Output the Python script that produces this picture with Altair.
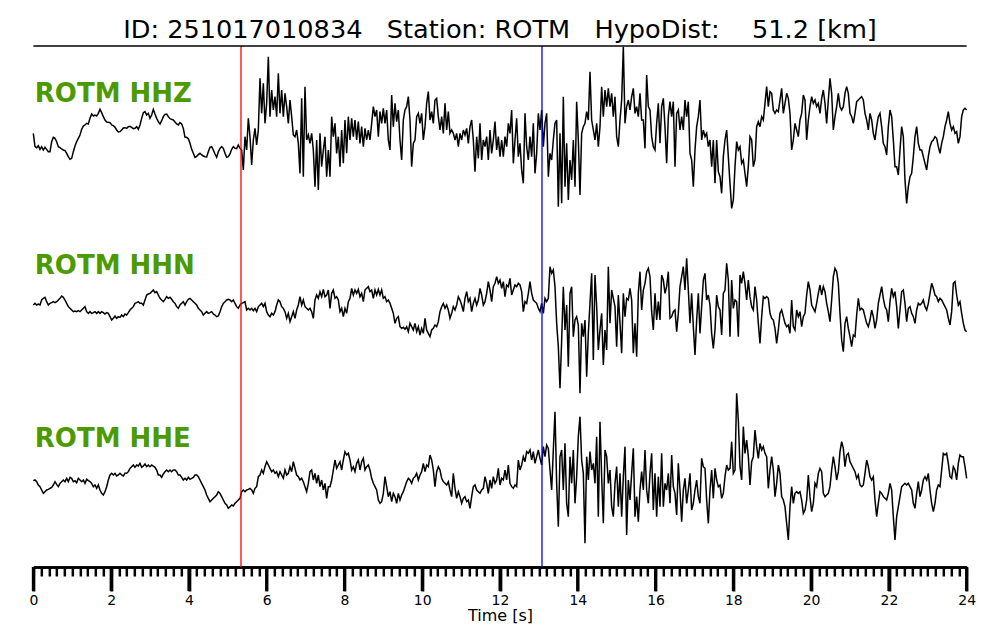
import altair as alt
import pandas as pd

TITLE = "ID: 251017010834   Station: ROTM   HypoDist:    51.2 [km]"
STATION = "ROTM"
CHANNELS = ["HHZ", "HHN", "HHE"]
SAMPLE_INTERVAL = 24 / 560  # seconds per sample
TRACE_OFFSETS = [1281, 801, 261]
P_PICK = 5.34
S_PICK = 13.08

HHZ = [
    20, -20, -23, -17, -28, -20, -30, -22, -28, -35,
    -35, -5, 8, 5, -5, -20, -23, -27, -30, -32,
    -40, -50, -58, -55, -35, -18, -5, 5, 15, 32,
    42, 45, 50, 48, 65, 78, 72, 75, 72, 80,
    92, 82, 70, 60, 54, 53, 52, 45, 43, 38,
    30, 24, 25, 30, 36, 37, 35, 40, 41, 38,
    34, 35, 40, 32, 45, 65, 82, 85, 75, 80,
    65, 75, 92, 78, 65, 55, 48, 58, 70, 77,
    78, 70, 64, 62, 60, 54, 48, 45, 52, 48,
    35, 8, 8, 4, -10, -28, -40, -52, -49, -44,
    -40, -45, -48, -50, -51, -35, -22, -20, -30, -42,
    -52, -35, -25, -20, -25, -40, -52, -50, -42, -28,
    -20, -25, -26, -15, -25, -30, -90, 10, -30, 65,
    10, -75, 0, 35, -15, 30, 185, 80, 170, 50,
    110, 250, 70, 150, 90, 130, 70, 200, 80, 150,
    70, 140, 100, 50, 120, 70, 15, 10, 30, -10,
    -100, 125, -110, 160, 0, 15, -10, 20, -30, -140,
    0, -150, 20, -80, -30, 10, -110, -30,
    -110, 70, 10, 50, -40, 10, -80, 30, -70, 60,
    -40, 70, 0, 65, 10, 60, 0, 55, -10, 40,
    -20, 35, 0, 30, 0, 50, 100, 70, 90, 10,
    85, 50, 95, 50, 90, 0, -30, 135, 40, 110,
    55, 90, 0, -60, 60, 90, 100, 130, 60, -80,
    -10, 0, 70, 80, 50, 80, 0, 40, 110, 145,
    60, 85, 50, 120, 125, 70, 30, 70, 20, 110,
    30, 85, 20, 30, 20, 0, 20, -20, 20, 0,
    30, 15, 35, -10, 40, 60, 0, -95, 10, -55,
    50, -60, 0, -20, 10, -60, 30, -40, 0, 55,
    -30, 10, -50, 0, -50, 10, -20, 50, 20, 90,
    -70, 0, 65, -50, -10, -90, -130, 80, -20, -60,
    10, -50, 50, -100, -40, 80, 30, 90, -20, 50,
    80, -110, -40, -60, 0, 50, 60, -200, 20, -190,
    130, -140, -10, -180, -60, -120, 0, -140, 115, 0,
    -165, 20, 40, 50, 85, 60, 205, 60, 30, 0,
    50, -20, 40, 160, 70, 150, 100, 155, 100, 140,
    70, 130, 10, -20, 60, 120, 280, 50, 100, 120,
    90, 130, 155, 80, 100, 70,
    140, 60, 60, -25, 195, 100, 90, 10, -20, -30,
    50, 110, -10, 100, 125, 40, -70, 70, 115, 70,
    115, -80, 80, 90, 30, 70, 30, 120, 70, 115,
    -40, -60, -140, -30, 40, 70, 120, 0, 30, 10,
    20, -20, 0, -80, 0, -130, 0, -95, -110, -160,
    -50, 0, 30, -50, -130, -205, -180, -80, -5, -30,
    -20, -70, -60, -100, -140, -80, 10, 0, -80, -60,
    40, 55, 40, 70, 60, 110, 160, 100, 145, 140,
    90, 80, 90, 85, 120, 155, 80, 110, 140, 125,
    80, -30, 0, 50, 30, 10, 60, 80, 135, 120,
    0, 60, 100, 130, 110, 120, 100, 110, 80, 125,
    150, 110, 50, 120, 185, 140, 30, 70, 100, 140,
    100, 90, 100, 140, 160, 140, 80, 70, 50, 80,
    115, 120, 125, 130, 120, 80, 60, 30, 80, 60,
    20, 0, 40, 70, 80, 40, -10, -20, -45, 40,
    90, 70, 0, -80, -80, -105, -30, 40, 10, -120,
    -190, -140, -110, -100, -50, 10, 40, -10, -30, -30,
    -50, -70, -90, -50, -20, -5, 0, 10, 5, -20,
    -40, -10, 10, 40, 60, 85, 50, 30, 40, 20,
    25, -10, 10, 70, 90, 95, 90,
]

HHN = [
    -15, -10, -15, -12, -15, 0, 5, 8, -5, -15,
    -10, -8, -5, -8, -5, 0, 5, 12, 8, 0,
    -10, -20, -25, -30, -35, -33, -35, -32, -35, -30,
    -25, -20, -35, -40, -35, -40, -38, -35, -40, -35,
    -40, -35, -38, -42, -38, -40, -50, -60, -55, -48,
    -55, -50, -52, -45, -50, -42, -45, -38, -30, -25,
    -20, -10, -8, -5, -10, -10, -15, 0, 15, 18,
    20, 25, 30, 22, 25, 15, 5, 0, -5, 2,
    10, 5, 8, 2, -5, -10, -20, -25, -15, -10,
    -5, -15, -5, 2, 5, 0, -5, -10, -15, -25,
    -30, -35, -45, -40, -35, -40, -38, -35, -42, -45,
    -50, -48, -35, -20, -10, -5, 0, 2, 0, -5,
    0, -10, -20, -25, -15, -10, -8, -5, -30, -25,
    -30, -25, -32, -25, -35, -20, -15, -10, -20, -10,
    -35, -45, -50, -40, -45, -35, -15, 0, -5, -20,
    -25, -35, -55, -40, -65, -50, -35, -55, -30, -15,
    10, -15, 0, -20, -25, -30, -25, -35, -55, 0,
    15, 5, 25, 10, 32, 10, 15, 30,
    -25, 20, 30, 5, 10, 0, -35, -25, -50, -25,
    -40, -5, 5, 35, 15, 30, 20, 32, 10, 20,
    -5, 30, 35, 40, 25, 30, 5, 30, 15, 32,
    15, 30, 5, 10, -5, 0, -10, -25, -40, -70,
    -55, -50, -80, -85, -82, -88, -80, -95, -70, -80,
    -90, -70, -95, -80, -105, -85, -100, -55, -90, -100,
    -110, -90, -85, -75, -80, -65, -35, -20, -10, -25,
    -15, -30, -55, -40, -20, -30, -15, 10, 0, -15,
    -35, 5, 25, -5, 5, -35, -10, 5, -15, 0,
    35, 15, -15, -5, 20, 55, 30, -5, 40, 50,
    70, 50, 60, 35, 55, 10, 45, 40, 65, 15,
    30, 45, 40, 50, 45, 25, -35, -5, -10, 20,
    55, 20, 0, -5, -10, -25, -35, -10, -40, 5,
    -5, 5, 100, 80, 90, 40, -70, -140, -265, -120,
    40, -90, -15, -200, 20, 40, -110, -60, -50, -75,
    -280, -70, -110, -60, -230, -100, -10, 80, -180, 75,
    -20, -150, -90, -40, -195, -90, -150, 100, -70, 30,
    5, -20, -140, 15, -70, -160, 20, -50, 5, 0,
    35, 0, -160, -70, -170, 20,
    85, -30, 30, 50, 85, 95, 70, -35, -90, 20,
    -60, -5, -60, 75, 60, 20, 40, 85, -55, -50,
    -35, -30, -95, -40, 40, 70, 100, 30, 125, 30,
    -70, 20, -80, -165, -60, 20, -100, -20, 60, 80,
    0, 15, -15, -100, -145, -90, 15, -20, -30, -105,
    20, 30, 110, 60, -110, 60, -25, 0, -5, -110,
    75, 50, 85, 50, 0, 60, 10, -20, -30, 40,
    0, -70, -130, -50, 10, 5, 10, 5, -40, -55,
    -60, -85, -130, -90, -40, -30, -50, -70, -80, -75,
    -100, 0, -80, -90, -30, -50, -35, -80, -50, -40,
    15, 55, 30, -15, -25, -35, -10, 20, 45, 15,
    40, 25, -10, -35, -65, 0, 70, 95, 85, 50,
    -40, -120, -155, -70, -50, -85, -110, -140, -105, -110,
    -45, 5, -30, -25, -30, -50, -70, -80, -60, -30,
    -50, -85, -60, -10, 15, 40, 5, -20, -30, -65,
    -5, 35, 10, 25, -20, -85, -30, 25, 30, -10,
    -65, -25, -20, -40, -50, -70, -30, -10, -15, -10,
    0, -20, -30, -10, 20, 50, 35, 15, 10, -5,
    5, 0, -10, -20, -30, -55, -75, -35, 50, 55,
    15, -15, -5, -40, -70, -90, -95,
]

HHE = [
    -2, 0, -5, -15, -20, -30, -40, -35, -30, -28,
    -25, -22, -15, -5, -13, -20, -10, -5, 0, -5,
    5, -5, 8, 5, -5, -2, -8, 5, 0, -5,
    0, -10, 2, -2, -5, -10, -20, -15, -25, -15,
    -30, -40, -45, -35, -20, 0, 15, 20, 15, 20,
    12, 15, 20, 15, 12, 20, 20, 25, 35, 40,
    45, 38, 45, 42, 50, 38, 42, 48, 40, 45,
    40, 45, 42, 38, 30, 15, 15, 8, 18, 25,
    30, 25, 30, 25, 30, 30, 25, 15, 15, 8,
    0, 5, 0, 8, 2, 5, 8, 15, 15, 10,
    0, -10, -20, -30, -45, -55, -65, -60, -55, -50,
    -45, -35, -40, -50, -60, -70, -75, -85, -80, -75,
    -78, -70, -65, -60, -55, -35, -30, -35, -30, -28,
    -25, -30, -40, -25, -20, 10, 15, 30, 20, 40,
    55, 45, 35, 25, 30, 20, 25, 10, 25, 15,
    5, 30, 15, 20, 40, 25, 55, 35, 15, 10,
    0, 5, -5, -20, -35, -10, 25, 30, 0, 20,
    -10, 15, -20, 0, -30, -10, -55, -20,
    -20, 0, 30, 60, 35, 45, 55, 30, 60, 85,
    75, 80, 60, 30, 40, 25, 50, 60, 30, 55,
    65, 30, 40, 45, 30, 5, -10, -20, -30, -60,
    -70, -65, -40, 10, -20, -50, -35, -65, -40, -50,
    -70, -40, -60, -45, -35, -20, -5, 5, 0, -10,
    5, 10, 20, 0, 15, 25, 50, 25, 45, 40,
    75, 60, 30, -20, 25, 40, 30, 5, -5, -10,
    -15, -5, -30, -50, 20, -25, -55, -35, -50, -70,
    -55, -50, -65, -60, -85, -50, -20, -15, -30, -35,
    -40, -30, -25, 10, -10, -40, 0, -25, 10, -10,
    0, 35, -15, 5, 0, 30, 0, 45, -10, -20,
    -25, -15, -20, 60, 30, 45, 70, 55, 85, 80,
    90, 60, 85, 50, 70, 90, 65, 45, 100, 70,
    105, 95, 30, -30, 90, 205, -10, -140, 70, 90,
    -30, 110, -70, -110, 70, -10, 90, -70, 10, 130,
    190, 60, 20, -190, 70, 0, 85, 30, 50, -10,
    130, -110, 175, 10, -130, 90, 70, -10, 30, -80,
    -110, -10, 40, -80, 20, -110, 10, 100, -165, 0,
    -60, 20, 95, -110, -50, -125,
    -30, 25, -30, 90, -30, -70, 20, 80, -90, 20,
    -110, 10, -80, 80, -80, -10, -30, 20, -70, 75,
    -20, -40, -105, 50, -30, -125, -30, 5, -70, -30,
    20, -90, -70, -30, 0, -50, -70, 65, 40, 35,
    -60, -130, -30, 30, -55, 35, 0, -20, -15, -55,
    -40, 10, 45, 30, 35, 115, 20, 30, 260, 180,
    40, 0, 160, 80, 120, 70, -15, 55, 70, 150,
    100, 65, 110, 90, 100, 80, 70, -25, 30, 70,
    30, -50, -10, 45, 20, -50, -60, -80, -130, -180,
    -80, -20, -70, -40, -35, -40, -35, -60, -100, -90,
    -60, 15, -50, -95, -70, -10, -20, 20, 35, 25,
    -40, -50, -45, -40, -20, 30, 70, 40, 0, 25,
    85, 115, 95, 40, 75, 80, 55, 45, 35, 25,
    5, 15, -15, -20, -15, 20, 60, 40, 10, 0,
    10, -60, -110, -70, -35, -40, -50, -55, -60, -40,
    -10, -30, -110, -180, -110, -80, -50, -20, -15, -10,
    -15, -10, -20, -30, -70, -85, -40, -5, -50, -30,
    0, 10, 0, 20, -30, -70, -95, -70, -30, -15,
    -20, 30, 80, 75, 80, 50, 10, 5, 40, 30,
    0, 50, 75, 70, 70, 40, 5,
]

rows = []
for ch, off, amps in zip(CHANNELS, TRACE_OFFSETS, [HHZ, HHN, HHE]):
    for i, a in enumerate(amps):
        rows.append({"channel": ch, "time": i * SAMPLE_INTERVAL, "value": off + a})
df = pd.DataFrame(rows)

picks = pd.DataFrame({"time": [P_PICK, S_PICK], "phase": ["P", "S"]})
MINOR_TICKS = [round(i * 0.2, 1) for i in range(121)]
MAJOR_TICKS = list(range(0, 25, 2))
major_df = pd.DataFrame({"tick": MAJOR_TICKS})

W = 933.33
H = 521
FONT = "DejaVu Sans"

xscale = alt.Scale(domain=[0, 24], nice=False, zero=False)
yscale = alt.Scale(domain=[0, 1563], nice=False, zero=False)

minor_axis = alt.Axis(
    orient="bottom",
    values=MINOR_TICKS,
    tickCount=500,
    title=None,
    labels=False,
    grid=False,
    domainColor="black",
    domainWidth=2.5,
    tickColor="black",
    tickSize=9,
    tickWidth=2.5,
)

major_axis = alt.Axis(
    orient="bottom",
    values=MAJOR_TICKS,
    tickCount=500,
    title="Time [s]",
    grid=False,
    domainColor="black",
    domainWidth=2.5,
    tickColor="black",
    tickSize=24,
    tickWidth=3,
    format="d",
    labelOverlap=False,
    labelFlush=False,
    labelFont=FONT,
    labelFontSize=14,
    labelColor="black",
    labelPadding=3,
    titleFont=FONT,
    titleFontSize=16,
    titleFontWeight="normal",
    titleColor="black",
    titlePadding=0,
)

lines = alt.Chart(df).mark_line(color="black", strokeWidth=1.5).encode(
    x=alt.X("time:Q", scale=xscale, axis=minor_axis),
    y=alt.Y("value:Q", scale=yscale, axis=None),
    detail="channel:N",
)

pick_rules = alt.Chart(picks).mark_rule(strokeWidth=1.3).encode(
    x=alt.X("time:Q", scale=xscale, axis=major_axis),
    color=alt.Color("phase:N", scale=alt.Scale(domain=["P", "S"], range=["#ff0000", "#0000ff"]), legend=None),
)

major_ticks = alt.Chart(major_df).mark_rule(color="black", strokeWidth=3).encode(
    x=alt.X("tick:Q", scale=xscale, axis=None),
    y=alt.value(H),
    y2=alt.value(H + 24),
)

one = pd.DataFrame({"k": [0]})
top_line = alt.Chart(one).mark_rule(color="black", strokeWidth=1.5).encode(
    x=alt.value(0), x2=alt.value(W), y=alt.value(0)
)

title_text = alt.Chart(one).mark_text(
    text=TITLE.replace(" ", "\u00a0"), font=FONT, fontSize=25.6, color="black",
    align="center", baseline="alphabetic",
).encode(x=alt.value(W / 2), y=alt.value(-8))

label_layers = []
for ch, ypx in zip(CHANNELS, [55.7, 228, 400.7]):
    label_layers.append(
        alt.Chart(one).mark_text(
            text=f"{STATION} {ch}", font=FONT, fontSize=26, fontWeight="bold",
            color="#4c9a00", align="left", baseline="alphabetic",
        ).encode(x=alt.value(1.5), y=alt.value(ypx))
    )

chart = alt.layer(lines, pick_rules, major_ticks, top_line, title_text, *label_layers).resolve_axis(
    x="independent"
).properties(
    width=W,
    height=H,
    autosize=alt.AutoSizeParams(type="none"),
    padding={"left": 25.33, "top": 38, "right": 20, "bottom": 60},
).configure_view(stroke=None)

chart.save("out.html", embed_options={"renderer": "svg", "actions": False})
